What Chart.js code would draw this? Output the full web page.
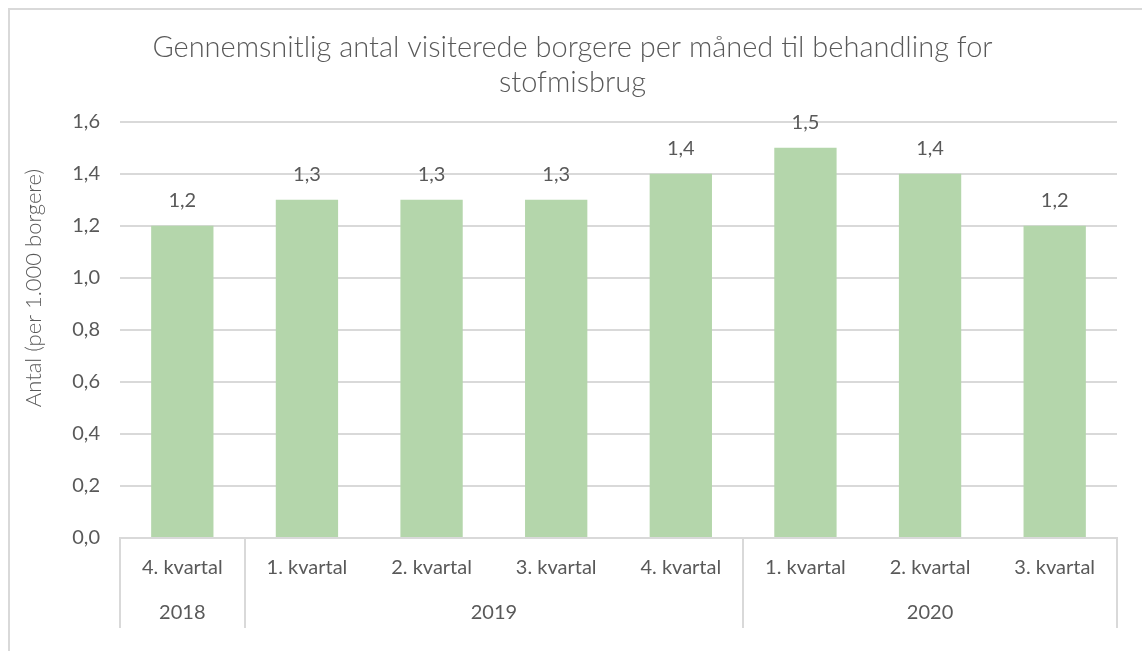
<!DOCTYPE html>
<html>
<head>
<meta charset="utf-8">
<script src="https://cdn.jsdelivr.net/npm/chart.js@4/dist/chart.umd.min.js"></script>
<style>
  html, body { margin: 0; padding: 0; background: #fff; }
  #ramme { position: absolute; left: 8px; top: 8px; width: 1200px; height: 700px; border: 2px solid #d9d9d9; box-sizing: border-box; }
  #wrap { position: absolute; left: 0; top: 0; width: 1142px; height: 651px; }
</style>
</head>
<body>
<div id="ramme"></div>
<div id="wrap"><canvas id="graf"></canvas></div>
<script>
// Data
const kvartaler = ['4. kvartal', '1. kvartal', '2. kvartal', '3. kvartal', '4. kvartal', '1. kvartal', '2. kvartal', '3. kvartal'];
const aarPerKvartal = ['2018', '2019', '2019', '2019', '2019', '2020', '2020', '2020'];
const antal = [1.2, 1.3, 1.3, 1.3, 1.4, 1.5, 1.4, 1.2];
const titelLinjer = ['Gennemsnitlig antal visiterede borgere per måned til behandling for', 'stofmisbrug'];
const yTitel = 'Antal (per 1.000 borgere)';

const tekstFarve = '#595959';
const linjeFarve = '#d9d9d9';
const skrift = 'Lato, "Open Sans", sans-serif';

const kommaTal = v => v.toFixed(1).replace('.', ',');

// Tal over søjlerne, årstal, skillelinjer og y-aksens titel
const ekstraTegning = {
    id: 'ekstraTegning',
    afterDatasetsDraw(chart) {
        const ctx = chart.ctx;
        const meta = chart.getDatasetMeta(0);
        ctx.save();
        ctx.fillStyle = tekstFarve;
        ctx.font = '20px ' + skrift;
        ctx.textAlign = 'center';
        ctx.textBaseline = 'middle';
        meta.data.forEach((bar, i) => {
            ctx.fillText(kommaTal(antal[i]), bar.x, bar.y - 25);
        });
        ctx.restore();
    },
    afterDraw(chart) {
        const ctx = chart.ctx;
        const x = chart.scales.x;
        const area = chart.chartArea;
        const halv = (x.getPixelForValue(1) - x.getPixelForValue(0)) / 2;

        // find grupper af år
        const grupper = [];
        aarPerKvartal.forEach((aar, i) => {
            const sidste = grupper[grupper.length - 1];
            if (sidste && sidste.aar === aar) sidste.slut = i;
            else grupper.push({ aar, start: i, slut: i });
        });

        ctx.save();
        ctx.strokeStyle = linjeFarve;
        ctx.lineWidth = 2;
        const bundLinje = 628;
        const kanter = [x.getPixelForValue(0) - halv];
        grupper.forEach(g => kanter.push(x.getPixelForValue(g.slut) + halv));
        kanter.forEach(kx => {
            ctx.beginPath();
            ctx.moveTo(Math.round(kx), area.bottom);
            ctx.lineTo(Math.round(kx), bundLinje);
            ctx.stroke();
        });

        ctx.fillStyle = tekstFarve;
        ctx.font = '20px ' + skrift;
        ctx.textAlign = 'center';
        ctx.textBaseline = 'middle';
        grupper.forEach(g => {
            const midt = (x.getPixelForValue(g.start) + x.getPixelForValue(g.slut)) / 2;
            ctx.fillText(g.aar, midt, 613);
        });

        // y-aksens titel
        ctx.font = '300 22px ' + skrift;
        ctx.translate(34, 288);
        ctx.rotate(-Math.PI / 2);
        ctx.fillText(yTitel, 0, 0);
        ctx.restore();
    }
};

new Chart(document.getElementById('graf'), {
    type: 'bar',
    data: {
        labels: kvartaler,
        datasets: [{
            data: antal,
            backgroundColor: '#b4d6ab',
            barPercentage: 0.5,
            categoryPercentage: 1.0,
        }],
    },
    options: {
        responsive: true,
        maintainAspectRatio: false,
        animation: false,
        layout: { padding: { left: 28, right: 25, top: 0, bottom: 0 } },
        plugins: {
            legend: { display: false },
            tooltip: { enabled: false },
            title: {
                display: true,
                text: titelLinjer,
                color: tekstFarve,
                font: { family: skrift, size: 29, weight: 300, lineHeight: 1.2 },
                padding: { top: 30, bottom: 22 },
            },
        },
        scales: {
            x: {
                grid: { display: false, drawTicks: false },
                border: { display: true, color: linjeFarve, width: 2 },
                ticks: { color: tekstFarve, font: { family: skrift, size: 20 }, padding: 18, maxRotation: 0, autoSkip: false },
                afterFit: scale => { scale.height = 113; },
            },
            y: {
                min: 0,
                max: 1.6,
                ticks: {
                    stepSize: 0.2,
                    color: tekstFarve,
                    font: { family: skrift, size: 20 },
                    padding: 20,
                    callback: v => kommaTal(v),
                },
                grid: { color: linjeFarve, lineWidth: 2, drawTicks: false },
                border: { display: false },
                afterFit: scale => { scale.width = 92; },
            },
        },
    },
    plugins: [ekstraTegning],
});
</script>
</body>
</html>
